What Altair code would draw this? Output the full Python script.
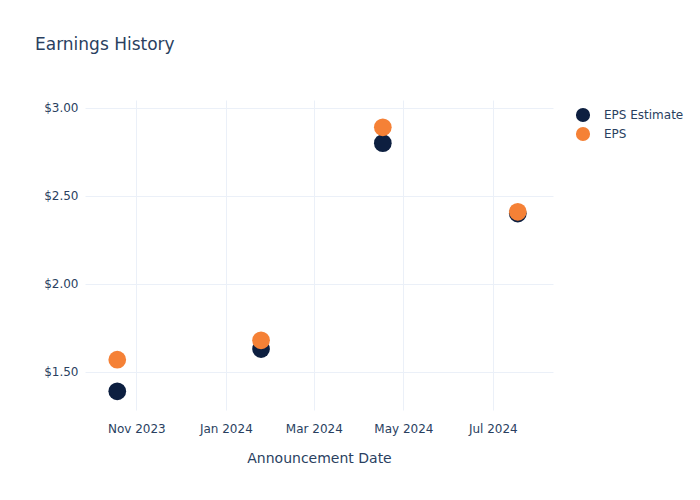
import altair as alt
import pandas as pd

# Data
dates = ["2023-10-19", "2024-01-25", "2024-04-17", "2024-07-18"]
eps_estimate = [1.39, 1.63, 2.80, 2.40]
eps_actual = [1.57, 1.68, 2.89, 2.41]
series_names = ["EPS Estimate", "EPS"]
series_colors = ["#0d1f40", "#f58136"]

x_tick_dates = [(2023, 11), (2024, 1), (2024, 3), (2024, 5), (2024, 7)]
y_ticks = [1.5, 2.0, 2.5, 3.0]

rows = []
for d, v in zip(dates, eps_estimate):
    rows.append({"date": d, "value": v, "series": "EPS Estimate"})
for d, v in zip(dates, eps_actual):
    rows.append({"date": d, "value": v, "series": "EPS"})
df = pd.DataFrame(rows)

text_color = "#2a3f5f"
grid_color = "#ebf0f8"

x_values = [alt.DateTime(year=y, month=m, date=1, utc=True) for y, m in x_tick_dates]

chart = alt.Chart(df).mark_circle(size=314, opacity=1).encode(
    x=alt.X(
        "date:T",
        title="Announcement Date",
        scale=alt.Scale(
            type="utc",
            domain=[
                alt.DateTime(year=2023, month=9, date=27, utc=True),
                alt.DateTime(year=2024, month=8, date=11, utc=True),
            ],
        ),
        axis=alt.Axis(values=x_values, labelExpr="utcFormat(datum.value, '%b %Y')"),
    ),
    y=alt.Y(
        "value:Q",
        title=None,
        scale=alt.Scale(domain=[1.284, 3.045], nice=False, zero=False),
        axis=alt.Axis(values=y_ticks, format="$.2f"),
    ),
    color=alt.Color(
        "series:N",
        scale=alt.Scale(domain=series_names, range=series_colors),
        legend=alt.Legend(
            title=None,
            orient="none",
            legendX=490,
            legendY=7,
            symbolSize=200,
            symbolType="circle",
            symbolOpacity=1,
            labelFontSize=12,
            labelColor=text_color,
            labelFont="DejaVu Sans",
            rowPadding=3,
            padding=0,
            labelOffset=13,
        ),
    ),
    order=alt.Order("order:Q"),
).transform_calculate(
    order="datum.series == 'EPS' ? 1 : 0"
).properties(
    width=468,
    height=310,
    background="white",
    autosize=alt.AutoSizeParams(type="none"),
    padding={"left": 77, "top": 92, "right": 139, "bottom": 82},
    title=alt.TitleParams(
        "Earnings History",
        anchor="start",
        frame="group",
        dx=-50,
        offset=46,
        fontSize=17,
        font="DejaVu Sans",
        fontWeight="normal",
        color=text_color,
    ),
).configure_view(
    stroke=None
).configure_axis(
    grid=True,
    gridColor=grid_color,
    gridWidth=1,
    domain=False,
    ticks=False,
    labelFont="DejaVu Sans",
    labelFontSize=12,
    labelColor=text_color,
    titleFont="DejaVu Sans",
    titleFontSize=14,
    titleFontWeight="normal",
    titleColor=text_color,
).configure_axisX(
    labelPadding=13,
    titlePadding=17,
).configure_axisY(
    labelPadding=7,
)

chart.save("out.html", embed_options={"renderer": "svg", "actions": False})
